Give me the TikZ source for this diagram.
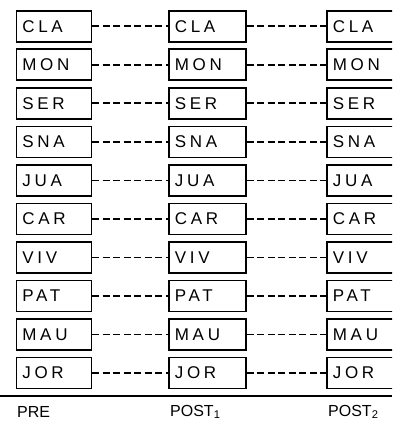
\documentclass[tikz,border=0pt]{standalone}
\usepackage{fontspec}
\newfontfamily\hand[LetterSpace=22]{Liberation Sans}
\newfontfamily\handlab{Liberation Sans}
\begin{document}
\begin{tikzpicture}[x=1pt,y=-1pt,
  pbox/.style={draw,line width=1.6pt,minimum height=31pt,inner xsep=6pt,inner ysep=0pt,
    anchor=north west,align=left,font=\hand\fontsize{17}{17}\selectfont},
  conn/.style={line width=1.6pt,dash pattern=on 7pt off 3.5pt},
  lab/.style={anchor=west,inner sep=0pt,font=\handlab\fontsize{16}{16}\selectfont}]
\useasboundingbox (0,0) rectangle (392,425);
\clip (0,0) rectangle (392,425);
\foreach \n [count=\i from 0] in {CLA,MON,SER,SNA,JUA,CAR,VIV,PAT,MAU,JOR} {
  \node[pbox,text width=63pt] (a\i) at (15.5,10+38.5*\i) {\n};
  \node[pbox,text width=65pt] (b\i) at (168,10+38.5*\i) {\n};
  \node[pbox,text width=90pt] (c\i) at (326,10+38.5*\i) {\n};
  \draw[conn] (a\i.east) -- (b\i.west);
  \draw[conn] (b\i.east) -- (c\i.west);
}
\draw[line width=1.7pt] (0,396) -- (392,396);
\node[lab] (l1) at (17,412) {PRE};
\node[lab] (l2) at (170,412) {POST\textsubscript{1}};
\node[lab] (l3) at (328,412) {POST\textsubscript{2}};
\end{tikzpicture}
\end{document}
